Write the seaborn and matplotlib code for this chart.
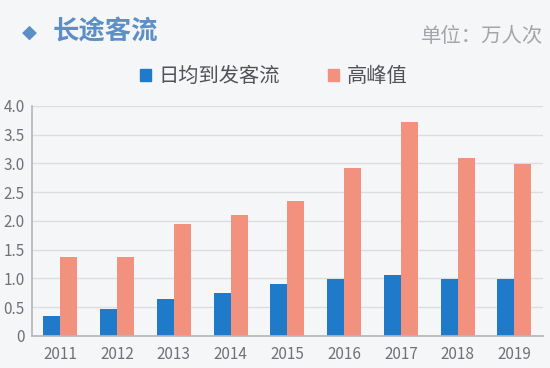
import pandas as pd
import matplotlib.pyplot as plt
import seaborn as sns
from matplotlib.patches import Patch

years = ['2011', '2012', '2013', '2014', '2015', '2016', '2017', '2018', '2019']
daily_flow = [0.34, 0.47, 0.64, 0.75, 0.91, 0.99, 1.06, 0.99, 0.99]
peak_flow = [1.37, 1.37, 1.95, 2.10, 2.35, 2.93, 3.72, 3.10, 2.99]
series_names = ['日均到发客流', '高峰值']
y_ticks = [0, 0.5, 1.0, 1.5, 2.0, 2.5, 3.0, 3.5, 4.0]
y_labels = ['0', '0.5', '1.0', '1.5', '2.0', '2.5', '3.0', '3.5', '4.0']

df = pd.DataFrame({
    'year': years * 2,
    'value': daily_flow + peak_flow,
    'series': [series_names[0]] * len(years) + [series_names[1]] * len(years),
})

sns.set_theme(style='white')
plt.rcParams['font.family'] = ['Noto Sans CJK SC', 'DejaVu Sans']

bg = '#f5f6f8'
colors = ['#1f7bc9', '#f2917d']

fig = plt.figure(figsize=(5.5, 3.68), dpi=100, facecolor=bg)
ax = fig.add_axes([0.058, 0.087, 0.929, 0.625], facecolor=bg)

sns.barplot(data=df, x='year', y='value', hue='series', palette=colors,
            width=0.6, gap=0, saturation=1, linewidth=0, ax=ax, legend=False)

ax.set_ylim(0, 4.0)
ax.set_xlim(-0.5, 8.5)
ax.set_yticks(y_ticks)
ax.set_yticklabels(y_labels)
ax.yaxis.grid(True, color='#dcdde0', linewidth=1)
ax.set_axisbelow(True)
ax.set_xlabel('')
ax.set_ylabel('')
for s in ['top', 'right']:
    ax.spines[s].set_visible(False)
ax.spines['left'].set_color('#b5b7ba')
ax.spines['bottom'].set_color('#b5b7ba')
ax.tick_params(axis='y', length=3, color='#b5b7ba', labelsize=11,
               labelcolor='#6f7175', pad=2)
ax.tick_params(axis='x', length=0, labelsize=11, labelcolor='#6f7175', pad=7)

# title and unit
fig.text(0.04, 0.913, '◆', fontsize=14, color='#5b8fc5', va='center',
         family=['DejaVu Sans'])
fig.text(0.096, 0.913, '长途客流', fontsize=19, fontweight='bold',
         color='#5b8fc5', va='center')
fig.text(0.987, 0.902, '单位：万人次', fontsize=14.7, color='#a3a5a8',
         va='center', ha='right')

handles = [Patch(color=c, label=n) for c, n in zip(colors, series_names)]
fig.legend(handles=handles, loc='center', bbox_to_anchor=(0.498, 0.791),
           ncol=2, frameon=False, fontsize=14.6, handlelength=0.54,
           handleheight=0.54, handletextpad=0.4, columnspacing=2.36,
           labelcolor='#505255', borderpad=0, borderaxespad=0)

plt.savefig('out.png', dpi=100, facecolor=bg)
